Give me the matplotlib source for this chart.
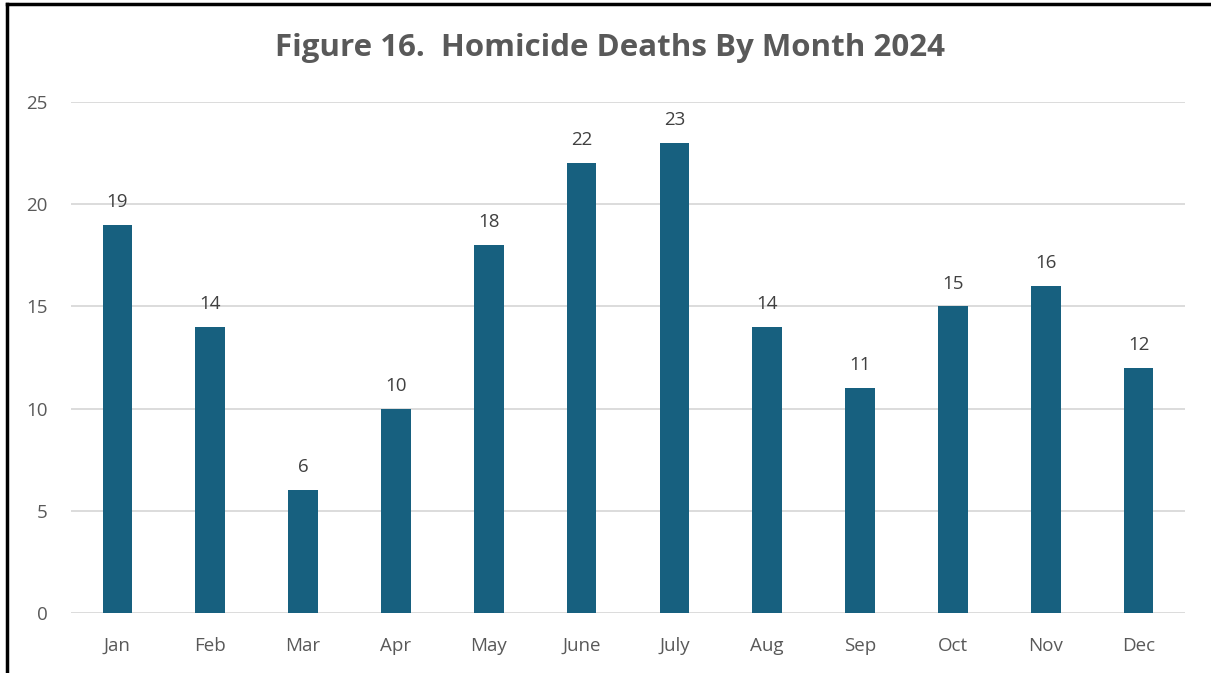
import matplotlib.pyplot as plt
import numpy as np

# dados
meses = ['Jan', 'Feb', 'Mar', 'Apr', 'May', 'June', 'July', 'Aug', 'Sep', 'Oct', 'Nov', 'Dec']
mortes = [19, 14, 6, 10, 18, 22, 23, 14, 11, 15, 16, 12]
y_ticks = [0, 5, 10, 15, 20, 25]

plt.rcParams.update({
    'font.family': ['Open Sans', 'DejaVu Sans'],
})

fig = plt.figure(figsize=(12.11, 6.73), dpi=100)
ax = fig.add_axes([71 / 1211, 1 - 613 / 673, (1185 - 71) / 1211, (613 - 102) / 673])

x = np.arange(len(meses))
barras = ax.bar(x, mortes, width=0.32, color='#17607F', zorder=3)
ax.bar_label(barras, padding=10, fontsize=13.5, color='#404040')

ax.set_xlim(-0.5, len(meses) - 0.5)
ax.set_ylim(0, 25)
ax.set_yticks(y_ticks)
ax.set_xticks(x)
ax.set_xticklabels(meses)
ax.tick_params(axis='both', length=0, labelsize=13.5, labelcolor='#595959')
ax.tick_params(axis='x', pad=17)
ax.tick_params(axis='y', pad=17)
ax.grid(axis='y', color='#D9D9D9', linewidth=1.3, zorder=0)
for s in ax.spines.values():
    s.set_visible(False)

fig.text(610 / 1211, 1 - 48 / 673, 'Figure 16.  Homicide Deaths By Month 2024',
         ha='center', va='center', fontsize=22.5, fontweight='bold', color='#595959')

# moldura (só topo e esquerda aparecem)
fig.add_artist(plt.Line2D([7 / 1211, 7 / 1211], [0, 1 - 4 / 673], color='black', linewidth=2.5))
fig.add_artist(plt.Line2D([7 / 1211, 1], [1 - 4 / 673, 1 - 4 / 673], color='black', linewidth=2.5))

fig.savefig('out.png', dpi=100)
